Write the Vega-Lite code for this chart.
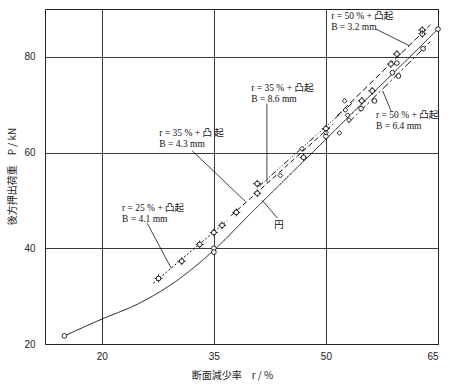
{
  "$schema": "https://vega.github.io/schema/vega-lite/v6.json",
  "width": 393,
  "height": 335,
  "autosize": {"type": "none"},
  "padding": {"left": 45, "top": 9, "right": 12, "bottom": 43},
  "background": "white",
  "config": {
    "view": {"stroke": "#222", "strokeWidth": 1},
    "axis": {
      "grid": true,
      "gridColor": "#222",
      "gridWidth": 0.9,
      "gridOpacity": 1,
      "domain": false,
      "ticks": false,
      "labelFont": "Liberation Sans",
      "labelFontSize": 10,
      "labelColor": "#222",
      "titleFont": "Noto Sans CJK JP",
      "titleFontSize": 10,
      "titleFontWeight": "normal",
      "titleColor": "#222"
    }
  },
  "datasets": {
    "lines": [
      {"series": "円", "r": 15, "p": 21.7},
      {"series": "円", "r": 20, "p": 25.2},
      {"series": "円", "r": 25, "p": 28.5},
      {"series": "円", "r": 30, "p": 33.2},
      {"series": "円", "r": 35, "p": 39.6},
      {"series": "円", "r": 40, "p": 47.4},
      {"series": "円", "r": 45, "p": 55.1},
      {"series": "円", "r": 50, "p": 62.8},
      {"series": "円", "r": 55, "p": 70.5},
      {"series": "円", "r": 60, "p": 78.1},
      {"series": "円", "r": 65, "p": 85.8},
      {"series": "r=25% B=4.1", "r": 26.9, "p": 32.7},
      {"series": "r=25% B=4.1", "r": 36.8, "p": 45.8},
      {"series": "r=35% B=4.3", "r": 37.3, "p": 46.8},
      {"series": "r=35% B=4.3", "r": 51, "p": 66},
      {"series": "r=35% B=8.6", "r": 41, "p": 52.9},
      {"series": "r=35% B=8.6", "r": 54, "p": 71},
      {"series": "r=50% B=3.2", "r": 51.5, "p": 67.7},
      {"series": "r=50% B=3.2", "r": 64, "p": 86.7},
      {"series": "r=50% B=6.4", "r": 53, "p": 66.2},
      {"series": "r=50% B=6.4", "r": 64, "p": 83.2}
    ],
    "points": [
      {"series": "円", "r": 15, "p": 21.7},
      {"series": "円", "r": 35, "p": 40.0},
      {"series": "円", "r": 35, "p": 39.2},
      {"series": "円", "r": 50, "p": 63.4},
      {"series": "円", "r": 65, "p": 85.8},
      {"series": "r=25% B=4.1", "r": 27.6, "p": 33.7},
      {"series": "r=25% B=4.1", "r": 30.7, "p": 37.3},
      {"series": "r=25% B=4.1", "r": 33.1, "p": 40.8},
      {"series": "r=25% B=4.1", "r": 35.0, "p": 43.3},
      {"series": "r=25% B=4.1", "r": 36.1, "p": 44.8},
      {"series": "r=35% B=4.3", "r": 38.0, "p": 47.5},
      {"series": "r=35% B=4.3", "r": 40.8, "p": 51.5},
      {"series": "r=35% B=4.3", "r": 40.8, "p": 53.5},
      {"series": "r=35% B=4.3", "r": 47.0, "p": 59.0},
      {"series": "r=35% B=4.3", "r": 50, "p": 65.0},
      {"series": "r=35% B=8.6", "r": 43.9, "p": 55.2},
      {"series": "r=35% B=8.6", "r": 46.8, "p": 60.8},
      {"series": "r=35% B=8.6", "r": 50, "p": 64.2},
      {"series": "r=35% B=8.6", "r": 51.8, "p": 64.1},
      {"series": "r=35% B=8.6", "r": 52.5, "p": 70.8},
      {"series": "r=35% B=8.6", "r": 52.6, "p": 68.9},
      {"series": "r=35% B=8.6", "r": 52.9, "p": 67.8},
      {"series": "r=35% B=8.6", "r": 53.1, "p": 66.8},
      {"series": "r=50% B=3.2", "r": 54.8, "p": 70.8},
      {"series": "r=50% B=3.2", "r": 56.2, "p": 72.9},
      {"series": "r=50% B=3.2", "r": 58.7, "p": 78.5},
      {"series": "r=50% B=3.2", "r": 59.5, "p": 80.6},
      {"series": "r=50% B=3.2", "r": 62.9, "p": 85.6},
      {"series": "r=50% B=3.2", "r": 62.9, "p": 84.8},
      {"series": "r=50% B=6.4", "r": 54.7, "p": 69.2},
      {"series": "r=50% B=6.4", "r": 56.5, "p": 70.8},
      {"series": "r=50% B=6.4", "r": 58.9, "p": 76.7},
      {"series": "r=50% B=6.4", "r": 59.5, "p": 78.7},
      {"series": "r=50% B=6.4", "r": 59.7, "p": 76.0},
      {"series": "r=50% B=6.4", "r": 63.0, "p": 81.7}
    ],
    "notes": [
      {"label": "r = 25 % + 凸起\nB = 4.1 mm", "r": 22.7, "p": 49.5},
      {"label": "r = 35 % + 凸 起\nB = 4.3 mm", "r": 27.7, "p": 65.2},
      {"label": "r = 35 % + 凸起\nB = 8.6 mm", "r": 40.0, "p": 74.6},
      {"label": "r = 50 % + 凸起\nB = 3.2 mm", "r": 50.7, "p": 89.6},
      {"label": "r = 50 % + 凸起\nB = 6.4 mm", "r": 56.7, "p": 69.0},
      {"label": "円", "r": 43.1, "p": 45.9}
    ],
    "arrows": [
      {"r": 26.1, "p": 45.2, "r2": 29.3, "p2": 35.8},
      {"r": 32.1, "p": 60.4, "r2": 39.2, "p2": 49.8},
      {"r": 42.1, "p": 70.2, "r2": 42.1, "p2": 53.8},
      {"r": 56.7, "p": 85.8, "r2": 61.2, "p2": 82.3},
      {"r": 58.7, "p": 68.75, "r2": 57.6, "p2": 72.9},
      {"r": 43.5, "p": 46.3, "r2": 41.5, "p2": 50.0}
    ]
  },
  "encoding": {
    "x": {
      "field": "r", "type": "quantitative",
      "scale": {"domain": [12.4, 65], "nice": false, "zero": false},
      "axis": {"values": [20, 35, 50, 65], "title": "断面減少率　r / %", "labelPadding": 7, "titleX": 187, "titleY": 31, "titleBaseline": "middle", "titleAlign": "center"}
    },
    "y": {
      "field": "p", "type": "quantitative",
      "scale": {"domain": [20, 90], "nice": false, "zero": false},
      "axis": {"values": [20, 40, 60, 80], "title": "後方押出荷重　P / kN", "labelPadding": 10, "titleX": -33, "titleY": 167, "titleAngle": -90, "titleBaseline": "middle", "titleAlign": "center"}
    }
  },
  "layer": [
    {
      "data": {"name": "lines"},
      "mark": {"type": "line", "color": "#111", "strokeWidth": 1, "interpolate": "monotone"},
      "encoding": {
        "strokeDash": {
          "field": "series", "type": "nominal",
          "scale": {
            "domain": ["円", "r=25% B=4.1", "r=35% B=4.3", "r=35% B=8.6", "r=50% B=3.2", "r=50% B=6.4"],
            "range": [[1, 0], [2, 2], [5, 3], [6, 2, 1, 2, 1, 2, 1, 2], [6, 3], [8, 3, 2, 3]]
          },
          "legend": null
        }
      }
    },
    {
      "data": {"name": "arrows"},
      "mark": {"type": "rule", "color": "#111", "strokeWidth": 0.8},
      "encoding": {
        "x2": {"field": "r2"},
        "y2": {"field": "p2"}
      }
    },
    {
      "data": {"name": "points"},
      "mark": {"type": "point", "filled": false, "fill": "white", "fillOpacity": 1, "stroke": "#111", "strokeWidth": 0.9, "size": 22, "opacity": 1},
      "encoding": {
        "shape": {
          "field": "series", "type": "nominal",
          "scale": {
            "domain": ["円", "r=25% B=4.1", "r=35% B=4.3", "r=35% B=8.6", "r=50% B=3.2", "r=50% B=6.4"],
            "range": ["circle", "circle", "circle", "diamond", "circle", "circle"]
          },
          "legend": null
        }
      }
    },
    {
      "data": {"name": "points"},
      "transform": [{"filter": {"field": "series", "oneOf": ["r=25% B=4.1", "r=35% B=4.3", "r=50% B=3.2"]}}],
      "mark": {"type": "point", "shape": "M -1.7 0 L -0.9 0 M 0.9 0 L 1.7 0 M 0 -1.7 L 0 -0.9 M 0 0.9 L 0 1.7", "filled": false, "stroke": "#111", "strokeWidth": 0.9, "size": 22, "opacity": 1},
      "encoding": {}
    },
    {
      "data": {"name": "notes"},
      "mark": {"type": "text", "align": "left", "baseline": "top", "lineBreak": "\n", "lineHeight": 11, "font": "Liberation Serif, Noto Sans CJK JP", "fontSize": 9.5, "color": "#111"},
      "encoding": {
        "text": {"field": "label"}
      }
    }
  ]
}
